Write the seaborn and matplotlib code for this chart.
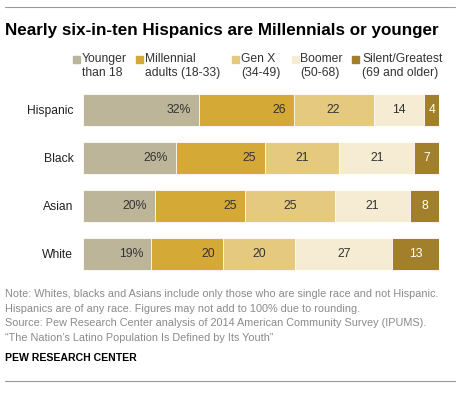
import matplotlib
matplotlib.use("Agg")
import matplotlib.pyplot as plt
from matplotlib.patches import Rectangle
from matplotlib.lines import Line2D
import numpy as np
import pandas as pd
import seaborn as sns

# data
races = ["Hispanic", "Black", "Asian", "White"]
generations = ["Younger\nthan 18", "Millennial\nadults (18-33)", "Gen X\n(34-49)",
               "Boomer\n(50-68)", "Silent/Greatest\n(69 and older)"]
younger = [32, 26, 20, 19]
millennial = [26, 25, 25, 20]
genx = [22, 21, 25, 20]
boomer = [14, 21, 21, 27]
silent = [4, 7, 8, 13]

colors = ["#bdb59a", "#d4a935", "#e5c97e", "#f6ebd3", "#a27f2b"]
text_colors = ["#333333", "#333333", "#333333", "#333333", "white"]

sns.set_style("white")
plt.rcParams["font.family"] = ["Liberation Sans", "DejaVu Sans"]

vals = np.array([younger, millennial, genx, boomer, silent], dtype=float)
# bars are drawn full width (figures may not add to 100 due to rounding)
widths = vals / vals.sum(axis=0) * 100
cum = widths.cumsum(axis=0)

df = pd.DataFrame({"race": races})
for i in range(len(generations)):
    df["cum%d" % i] = cum[i]

fig = plt.figure(figsize=(4.61, 3.94), dpi=100)
ax = fig.add_axes([83 / 461, 1 - 277.8 / 394, 356 / 461, 192 / 394])

# stacked bars: draw cumulative totals from the back forward
for i in reversed(range(len(generations))):
    sns.barplot(data=df, x="cum%d" % i, y="race", color=colors[i], orient="h",
                width=0.667, ax=ax, saturation=1, edgecolor="white", linewidth=0.6)

for j, race in enumerate(races):
    for i in range(len(generations)):
        left = cum[i][j] - widths[i][j]
        lab = "%d" % vals[i][j]
        if i == 0:
            lab += "%"
        if i < 2:
            ax.text(cum[i][j] - 2.3, j, lab, ha="right", va="center",
                    fontsize=8.8, color=text_colors[i])
        else:
            ax.text(left + widths[i][j] / 2, j, lab, ha="center", va="center",
                    fontsize=8.8, color=text_colors[i])

ax.set_xlim(0, 100)
ax.set_ylim(3.5, -0.5)
ax.set_xlabel("")
ax.set_ylabel("")
ax.set_xticks([])
ax.tick_params(axis="y", length=0, pad=7, labelsize=8.7, labelcolor="#222222")
sns.despine(ax=ax, left=True, bottom=True)

# legend, built by hand so the swatch sits beside the first line
sq_x = [73, 136, 232, 292, 352]
tx_x = [82, 145, 241, 300, 362]
for i, g in enumerate(generations):
    fig.patches.append(Rectangle((sq_x[i] / 461, 1 - 63 / 394), 7 / 461, 7 / 394,
                                 transform=fig.transFigure, color=colors[i]))
    fig.text(tx_x[i] / 461, 1 - 53 / 394, g, ha="left", va="top", fontsize=8.7,
             color="#333333", linespacing=1.2)

fig.text(5 / 461, 1 - 30 / 394, "Nearly six-in-ten Hispanics are Millennials or younger",
         ha="left", va="center", fontsize=12.25, fontweight="bold", color="black")

notes = ["Note: Whites, blacks and Asians include only those who are single race and not Hispanic.",
         "Hispanics are of any race. Figures may not add to 100% due to rounding.",
         "Source: Pew Research Center analysis of 2014 American Community Survey (IPUMS).",
         "\u201cThe Nation\u2019s Latino Population Is Defined by Its Youth\u201d"]
for k, line in enumerate(notes):
    fig.text(5 / 461, 1 - (294 + 14.6 * k) / 394, line, ha="left", va="center",
             fontsize=7.85, color="#8a8a8a")
fig.text(5 / 461, 1 - 358 / 394, "PEW RESEARCH CENTER", ha="left", va="center",
         fontsize=7.6, fontweight="bold", color="black")

for yy in [7, 381]:
    fig.add_artist(Line2D([5 / 461, 455 / 461], [1 - yy / 394, 1 - yy / 394],
                          transform=fig.transFigure, color="#999999", linewidth=0.8))

fig.savefig("out.png", dpi=100)
